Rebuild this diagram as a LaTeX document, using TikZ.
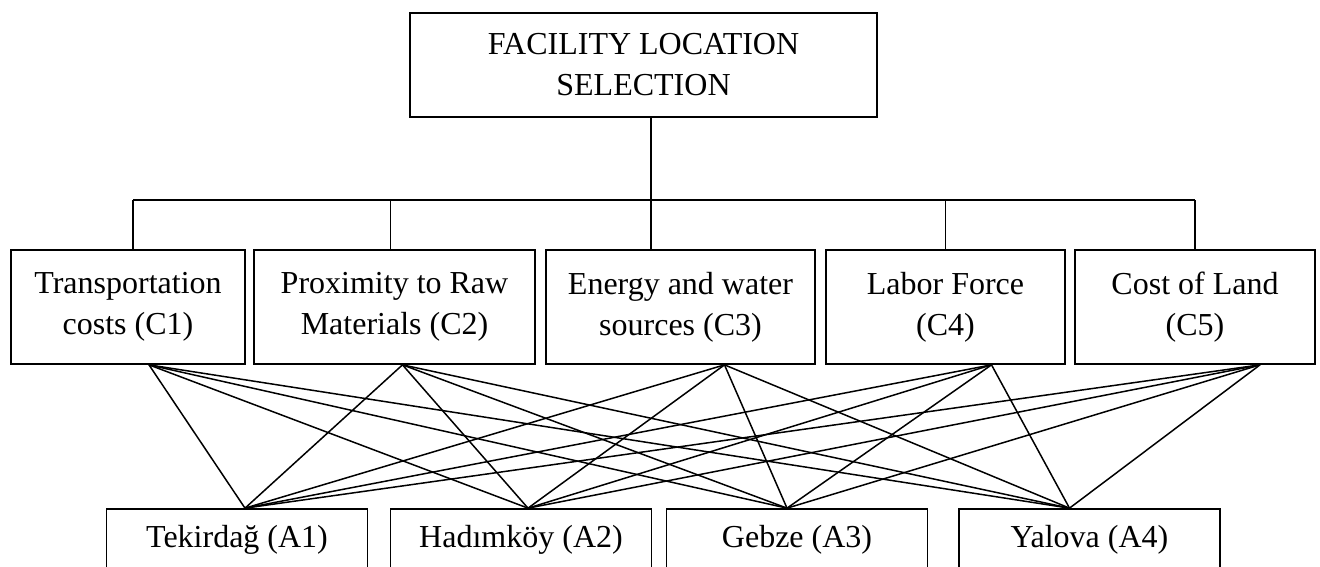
\documentclass[tikz,border=0pt]{standalone}
\usepackage{fontspec}
\setmainfont{Liberation Serif}
\usetikzlibrary{positioning}

\begin{document}
\begin{tikzpicture}[
      x=1pt, y=-1pt,
      font=\fontsize{32}{41}\selectfont,
      line width=1.5pt,
      box/.style={draw, line width=1.7pt, inner sep=0pt, align=center},
      goal/.style={box, minimum width=467pt, minimum height=104pt},
      crit/.style={box, minimum height=114pt},
      alt/.style={box, minimum width=261pt, minimum height=62pt},
      link/.style={line width=1.5pt}
    ]
      \useasboundingbox (0,0) rectangle (1320,566);

      \node[goal] (goal) at (643.5,65) {FACILITY LOCATION\\SELECTION};

      \node[crit, minimum width=234pt] (c1) at (128,307) {Transportation\\costs (C1)};
      \node[crit, minimum width=281pt] (c2) at (394.5,307) {Proximity to Raw\\Materials (C2)};
      \node[crit, minimum width=269pt] (c3) at (680.5,307) {Energy and water\\sources (C3)};
      \node[crit, minimum width=239pt] (c4) at (945.5,307) {Labor Force\\(C4)};
      \node[crit, minimum width=240pt] (c5) at (1195,307) {Cost of Land\\(C5)};

      \node[alt] (a1) at (237,540) {Tekirdağ (A1)};
      \node[alt] (a2) at (521,540) {Hadımköy (A2)};
      \node[alt] (a3) at (797,540) {Gebze (A3)};
      \node[alt] (a4) at (1089.5,540) {Yalova (A4)};

      % tree from the goal down to the criteria
      \coordinate (hub) at (651,200);
      \draw[link] (goal.south -| hub) -- (hub |- c3.north);
      \draw[link] ([xshift=5pt]c1.north |- hub) -- (c5.north |- hub);
      \draw[link] ([xshift=5pt]c1.north |- hub) -- ([xshift=5pt]c1.north);
      \draw[link] ([xshift=-4pt]c2.north |- hub) -- ([xshift=-4pt]c2.north);
      \draw[link] (c4.north |- hub) -- (c4.north);
      \draw[link] (c5.north |- hub) -- (c5.north);

      % where the links leave and enter the boxes
      \coordinate (c1-out) at ([xshift=21pt]c1.south);
      \coordinate (c2-out) at ([xshift=8pt]c2.south);
      \coordinate (c3-out) at ([xshift=44pt]c3.south);
      \coordinate (c4-out) at ([xshift=46pt]c4.south);
      \coordinate (c5-out) at ([xshift=65pt]c5.south);
      \coordinate (a1-in) at ([xshift=8pt]a1.north);
      \coordinate (a2-in) at ([xshift=7pt]a2.north);
      \coordinate (a3-in) at ([xshift=-10pt]a3.north);
      \coordinate (a4-in) at ([xshift=-20pt]a4.north);

      \foreach \c in {1,...,5}
        \foreach \a in {1,...,4}
          \draw[link] (c\c-out) -- (a\a-in);
    \end{tikzpicture}
\end{document}
